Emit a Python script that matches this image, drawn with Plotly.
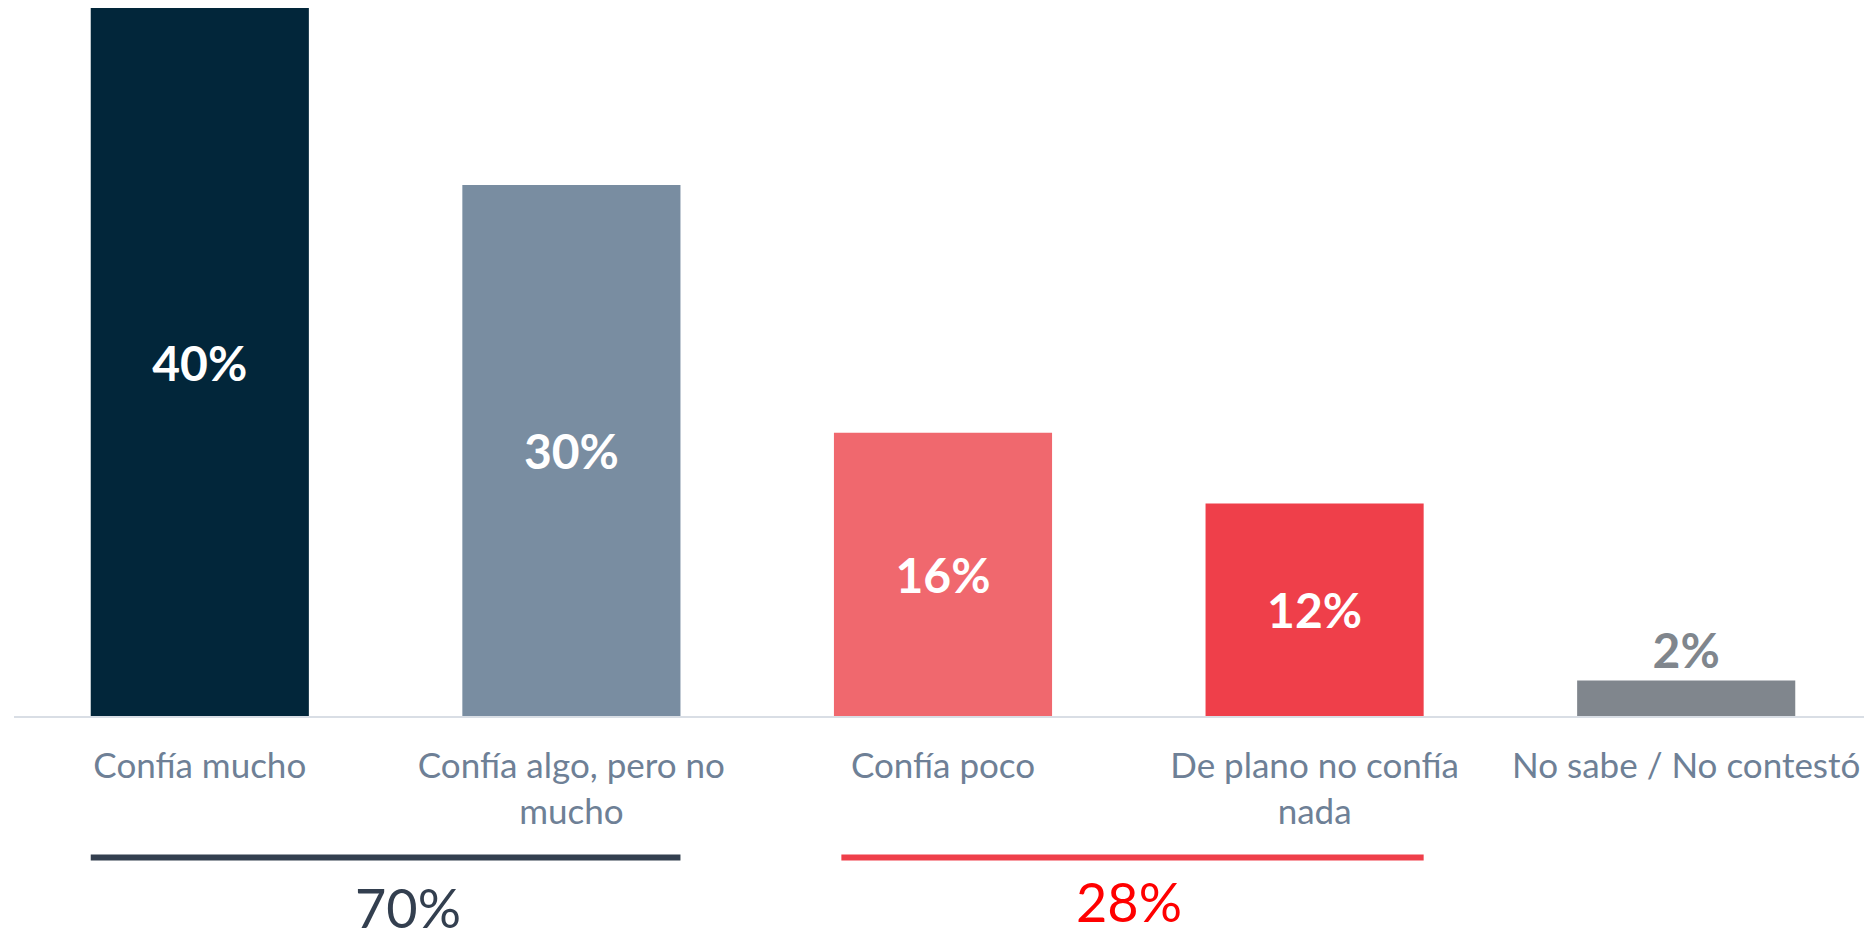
import plotly.graph_objects as go

categories = ['Confía mucho', 'Confía algo, pero no<br>mucho', 'Confía poco',
              'De plano no confía<br>nada', 'No sabe / No contestó']
values = [40, 30, 16, 12, 2]
bar_colors = ['#02263A', '#798DA1', '#F0686E', '#EF3F4A', '#80868D']
label_colors = ['white', 'white', 'white', 'white', '#80868D']
label_pos = ['inside', 'inside', 'inside', 'inside', 'outside']

group_totals = ['70%', '28%']
group_spans = [(0, 1), (2, 3)]
group_colors = ['#333F4F', '#EF3F4A']
group_text_colors = ['#333F4F', '#FF0000']

bar_w = 0.587

fig = go.Figure(go.Bar(
    x=list(range(len(categories))),
    y=values,
    width=bar_w,
    marker=dict(color=bar_colors, line=dict(width=0)),
    text=[f'{v}%' for v in values],
    textposition=label_pos,
    insidetextanchor='middle',
    textangle=0,
    textfont=dict(family='Lato', size=48, color=label_colors, weight='bold'),
    cliponaxis=False,
    hoverinfo='skip',
))

# lines + totals under each group
for (a, b), tot, lc, tc, dx, ty in zip(group_spans, group_totals, group_colors,
                                       group_text_colors, [0.06, 0.0], [-0.27, -0.262]):
    fig.add_shape(type='line', xref='x', yref='paper',
                  x0=a - bar_w / 2 + (0.02 if a else 0), x1=b + bar_w / 2, y0=-0.2, y1=-0.2,
                  line=dict(color=lc, width=6))
    fig.add_annotation(x=(a + b) / 2 + dx, y=ty, xref='x', yref='paper',
                       text=tot, showarrow=False, yanchor='middle',
                       font=dict(family='Lato', size=54, color=tc))

# page body has an 8px margin, so the figure is shifted to compensate
fig.update_layout(
    width=1864, height=931,
    margin=dict(l=6, r=0, t=0, b=223),
    plot_bgcolor='white', paper_bgcolor='white',
    showlegend=False,
    font=dict(family='Lato'),
    xaxis=dict(
        tickmode='array', tickvals=list(range(len(categories))), ticktext=categories,
        range=[-0.5, len(categories) - 0.5],
        tickfont=dict(family='Lato', size=35, color='#6E8096'),
        showline=True, linecolor='#D9DEE5', linewidth=2,
        ticks='', ticklabelstandoff=18, showgrid=False,
    ),
    yaxis=dict(range=[0, 40], visible=False, showgrid=False),
)

fig.write_html('out.html')
